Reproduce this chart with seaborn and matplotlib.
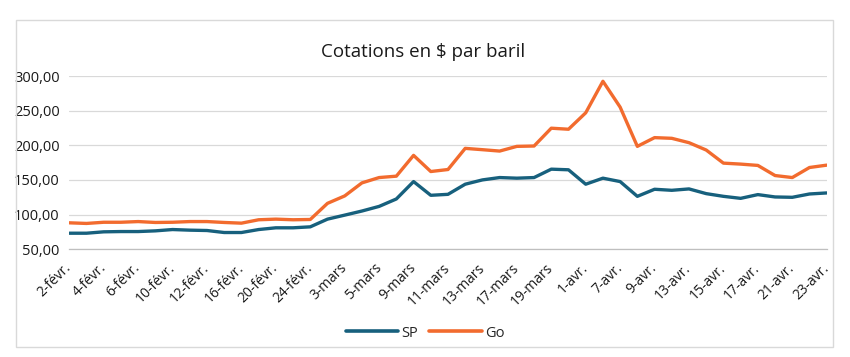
import matplotlib
matplotlib.use("Agg")
import matplotlib.pyplot as plt
import seaborn as sns
import pandas as pd
from matplotlib.patches import Rectangle

# dates (only every other one is shown on the axis)
dates = ["2-févr.", "3-févr.", "4-févr.", "5-févr.", "6-févr.", "9-févr.", "10-févr.", "11-févr.",
         "12-févr.", "13-févr.", "16-févr.", "17-févr.", "20-févr.", "23-févr.", "24-févr.", "1-mars",
         "3-mars", "4-mars", "5-mars", "8-mars", "9-mars", "10-mars", "11-mars", "12-mars",
         "13-mars", "16-mars", "17-mars", "18-mars", "19-mars", "25-mars", "1-avr.", "6-avr.",
         "7-avr.", "8-avr.", "9-avr.", "12-avr.", "13-avr.", "14-avr.", "15-avr.", "16-avr.",
         "17-avr.", "20-avr.", "21-avr.", "22-avr.", "23-avr."]

sp = [73.2, 73.2, 75.2, 75.6, 75.6, 76.6, 78.5, 77.6, 77.1, 74.2, 74.2, 78.5, 81.0, 81.0, 82.4,
      93.5, 99.3, 105.2, 111.9, 122.6, 147.7, 127.9, 129.3, 143.9, 150.1, 153.5, 152.6, 153.5,
      165.6, 164.7, 143.9, 152.6, 147.7, 126.4, 136.6, 135.1, 137.1, 130.3, 126.4, 123.5, 128.9,
      125.5, 125.0, 129.8, 131.3]

go = [88.2, 87.3, 89.0, 89.0, 90.0, 88.7, 89.0, 90.0, 90.0, 88.7, 87.7, 92.6, 93.5, 92.6, 93.0,
      116.3, 127.0, 145.8, 153.5, 155.5, 185.5, 162.2, 165.1, 195.6, 193.7, 191.7, 198.5, 199.0,
      224.7, 223.2, 246.9, 292.4, 255.1, 198.5, 211.1, 210.1, 203.8, 193.2, 174.3, 172.9, 171.0,
      156.4, 153.5, 168.0, 171.4]

series = ["SP", "Go"]
colors = ["#17607d", "#f26b2e"]

df = pd.DataFrame({"idx": list(range(len(dates))) * 2,
                   "valeur": sp + go,
                   "serie": ["SP"] * len(sp) + ["Go"] * len(go)})

sns.set_style("white")
plt.rcParams["font.family"] = ["Open Sans", "DejaVu Sans"]

fig = plt.figure(figsize=(8.5, 3.57), dpi=100)
ax = fig.add_axes([0.0815, 0.3017, 0.8911, 0.4854])

sns.lineplot(data=df, x="idx", y="valeur", hue="serie", hue_order=series,
             palette=colors, linewidth=2.4, ax=ax, legend=False)

ax.set_xlim(0, len(dates) - 1)
ax.set_ylim(50, 300)
ax.set_yticks([50, 100, 150, 200, 250, 300])
ax.set_yticklabels([f"{v:.2f}".replace(".", ",") for v in [50, 100, 150, 200, 250, 300]],
                   fontsize=10.5, color="#1a1a1a")
ax.set_xticks(range(0, len(dates), 2))
ax.set_xticklabels(dates[::2], rotation=45, ha="right", va="center", rotation_mode="anchor",
                   fontsize=10, color="#1a1a1a")
ax.set_xticks(range(len(dates)), minor=True)
ax.tick_params(axis="x", which="both", length=5, color="#bfbfbf", width=0.8, pad=7)
ax.tick_params(axis="y", length=0, pad=7)
ax.grid(axis="y", color="#d9d9d9", linewidth=0.9)
ax.set_axisbelow(True)
for s in ["top", "right", "left"]:
    ax.spines[s].set_visible(False)
ax.spines["bottom"].set_color("#bfbfbf")
ax.spines["bottom"].set_linewidth(0.9)
ax.set_xlabel("")
ax.set_ylabel("")

fig.text(0.498, 0.855, "Cotations en $ par baril", ha="center", va="center",
         fontsize=13.5, color="#1a1a1a")

handles = [plt.Line2D([], [], color=c, linewidth=2.6) for c in colors]
fig.legend(handles, series, loc="center", bbox_to_anchor=(0.5, 0.067), ncol=2, frameon=False,
           fontsize=10.5, handlelength=3.6, handletextpad=0.2, columnspacing=0.8)

fig.patches.append(Rectangle((16 / 850, 10 / 357), 817 / 850, 327 / 357, transform=fig.transFigure,
                             fill=False, edgecolor="#d9d9d9", linewidth=1))

fig.savefig("out.png", dpi=100)
